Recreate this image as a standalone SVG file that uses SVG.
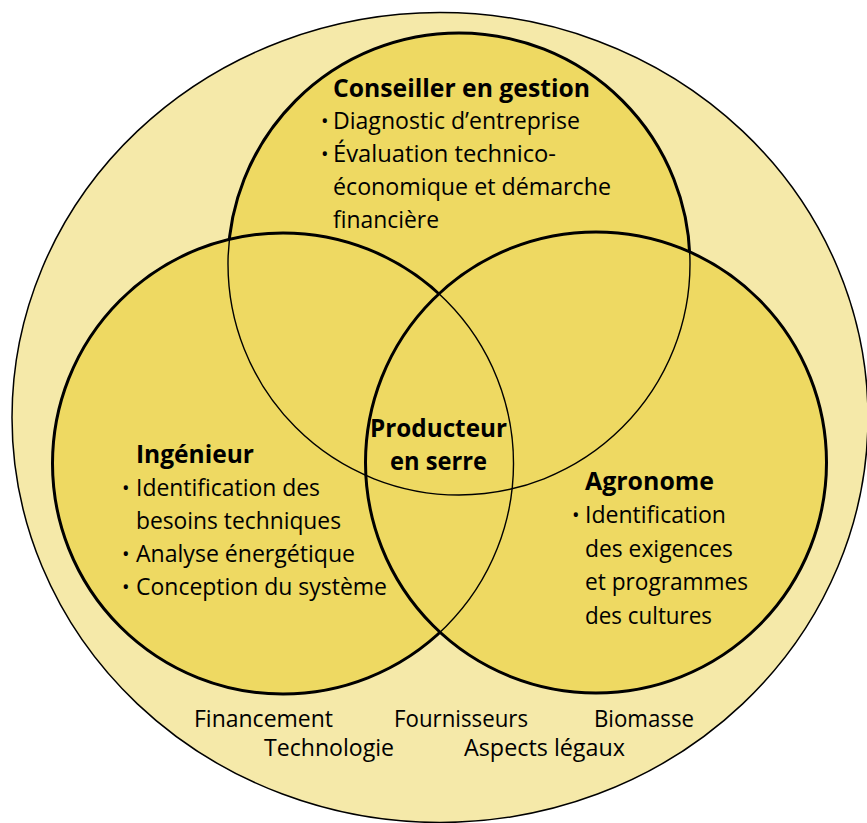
<svg xmlns="http://www.w3.org/2000/svg" width="867" height="823" viewBox="0 0 867 823">
<style>
text{font-family:"Open Sans","Liberation Sans",Arial,sans-serif;fill:#000;font-size:24.5px}
.b{font-weight:bold}
.bu{font-size:20px}
.fill{fill:#EED962;stroke:none}
.thin{fill:none;stroke:#000;stroke-width:1.4}
.thick{fill:none;stroke:#000;stroke-width:3}
</style>
<defs>
<mask id="outLR" maskUnits="userSpaceOnUse" x="0" y="0" width="867" height="823">
<rect x="0" y="0" width="867" height="823" fill="#fff"/>
<circle cx="283" cy="463.5" r="230.5" fill="#000"/>
<circle cx="596" cy="462.5" r="230.5" fill="#000"/>
</mask>
<mask id="outR" maskUnits="userSpaceOnUse" x="0" y="0" width="867" height="823">
<rect x="0" y="0" width="867" height="823" fill="#fff"/>
<circle cx="596" cy="462.5" r="230.5" fill="#000"/>
</mask>
</defs>
<g id="context">
<ellipse cx="440" cy="417.5" rx="428" ry="405" fill="#F5E9A9" stroke="#000" stroke-width="1.5"/>
</g>
<g id="fills">
<circle class="fill" cx="459" cy="264" r="231"/>
<circle class="fill" cx="283" cy="463.5" r="230.5"/>
<circle class="fill" cx="596" cy="462.5" r="230.5"/>
</g>
<g id="connectors">
<circle class="thin" cx="459" cy="264" r="231"/>
<circle class="thin" cx="283" cy="463.5" r="230.5"/>
<circle class="thin" cx="596" cy="462.5" r="230.5"/>
<circle class="thick" cx="459" cy="264" r="231" mask="url(#outLR)"/>
<circle class="thick" cx="283" cy="463.5" r="230.5" mask="url(#outR)"/>
<circle class="thick" cx="596" cy="462.5" r="230.5"/>
</g>
<g id="node-conseiller">
<text class="b" x="333" y="97" textLength="257" lengthAdjust="spacingAndGlyphs">Conseiller en gestion</text>
<text class="bu" x="321" y="128">•</text>
<text x="333" y="129" textLength="247" lengthAdjust="spacingAndGlyphs">Diagnostic d’entreprise</text>
<text class="bu" x="321" y="161">•</text>
<text x="333" y="162" textLength="223" lengthAdjust="spacingAndGlyphs">Évaluation technico-</text>
<text x="333" y="195" textLength="278" lengthAdjust="spacingAndGlyphs">économique et démarche</text>
<text x="333" y="228" textLength="106" lengthAdjust="spacingAndGlyphs">financière</text>
</g>
<g id="node-ingenieur">
<text class="b" x="136" y="463" textLength="118" lengthAdjust="spacingAndGlyphs">Ingénieur</text>
<text class="bu" x="122" y="495">•</text>
<text x="136" y="496" textLength="184" lengthAdjust="spacingAndGlyphs">Identification des</text>
<text x="136" y="529" textLength="205" lengthAdjust="spacingAndGlyphs">besoins techniques</text>
<text class="bu" x="122" y="561">•</text>
<text x="136" y="562" textLength="219" lengthAdjust="spacingAndGlyphs">Analyse énergétique</text>
<text class="bu" x="122" y="594">•</text>
<text x="136" y="595" textLength="251" lengthAdjust="spacingAndGlyphs">Conception du système</text>
</g>
<g id="node-agronome">
<text class="b" x="585" y="490" textLength="129" lengthAdjust="spacingAndGlyphs">Agronome</text>
<text class="bu" x="572" y="522">•</text>
<text x="585" y="523" textLength="141" lengthAdjust="spacingAndGlyphs">Identification</text>
<text x="585" y="557" textLength="148" lengthAdjust="spacingAndGlyphs">des exigences</text>
<text x="585" y="590" textLength="163" lengthAdjust="spacingAndGlyphs">et programmes</text>
<text x="585" y="624" textLength="127" lengthAdjust="spacingAndGlyphs">des cultures</text>
</g>
<g id="node-producteur">
<text class="b" x="370" y="437" textLength="137" lengthAdjust="spacingAndGlyphs">Producteur</text>
<text class="b" x="390" y="470" textLength="97" lengthAdjust="spacingAndGlyphs">en serre</text>
</g>
<g id="context-labels">
<text x="194" y="727" textLength="139" lengthAdjust="spacingAndGlyphs">Financement</text>
<text x="394" y="727" textLength="134" lengthAdjust="spacingAndGlyphs">Fournisseurs</text>
<text x="594" y="727" textLength="100" lengthAdjust="spacingAndGlyphs">Biomasse</text>
<text x="264" y="756" textLength="130" lengthAdjust="spacingAndGlyphs">Technologie</text>
<text x="464" y="756" textLength="161" lengthAdjust="spacingAndGlyphs">Aspects légaux</text>
</g>
</svg>
